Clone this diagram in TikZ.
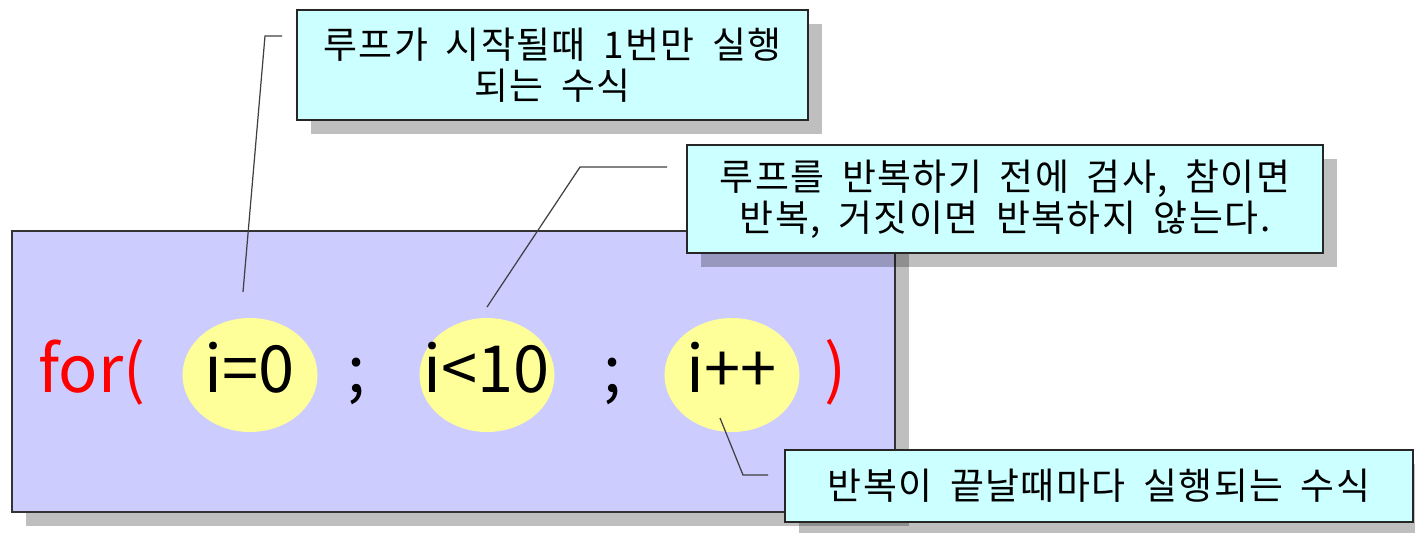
\documentclass[tikz,border=0pt]{standalone}
\usepackage{fontspec}
\setmainfont{Noto Sans CJK KR}
\newfontfamily\krwide[LetterSpace=4,WordSpace=1.8]{Noto Sans CJK KR}
\usetikzlibrary{shapes.geometric,shadows}
\definecolor{lavbox}{HTML}{CCCCFF}
\definecolor{cyanbox}{HTML}{CCFFFF}
\definecolor{yellowov}{HTML}{FFFF99}
\begin{document}
\begin{tikzpicture}[x=0.02cm,y=-0.02cm,
  shad/.style={drop shadow={shadow xshift=0.28cm,shadow yshift=-0.28cm,opacity=0.25,fill=black}},
  mainbox/.style={draw=black!80,line width=0.8pt,fill=lavbox,inner sep=0pt},
  callout/.style={draw=black!85,line width=0.8pt,fill=cyanbox,inner sep=0pt,align=center,
    font=\krwide\fontsize{21pt}{23.5pt}\selectfont},
  oval/.style={ellipse,fill=yellowov,inner sep=0pt,minimum width=2.7cm,minimum height=2.28cm},
  code/.style={font=\fontsize{37pt}{40pt}\selectfont,anchor=base,inner sep=0pt},
  redcode/.style={code,text=red},
  lead/.style={draw=black!75,line width=0.7pt}
]
\useasboundingbox (0,0) rectangle (1415,532);
% main box
\node[mainbox,shad,minimum width=17.66cm,minimum height=5.62cm] (main) at (453.5,371.5) {};
% ovals
\node[oval] (e1) at (250,375) {};
\node[oval] (e2) at (487,375) {};
\node[oval] (e3) at (732,375) {};
% code text
\node[redcode] (for) at (92,392) {for(};
\node[code] (t1) at (250,392) {i=0};
\node[code] (s1) at (357,392) {;};
\node[code] (t2) at (487,392) {i<10};
\node[code] (s2) at (613,392) {;};
\node[code] (t3) at (732,392) {i++};
\node[redcode] (cl) at (835,392) {)};
% callouts
\node[callout,shad,minimum width=10.22cm,minimum height=2.2cm] (b1) at (552.5,65)
  {루프가 시작될때 1번만 실행\\되는 수식};
\node[callout,shad,minimum width=12.72cm,minimum height=2.16cm] (b2) at (1005,199)
  {루프를 반복하기 전에 검사, 참이면\\반복, 거짓이면 반복하지 않는다.};
\node[callout,shad,minimum width=12.56cm,minimum height=1.44cm] (b3) at (1099,486)
  {반복이 끝날때마다 실행되는 수식};
% leader lines
\coordinate (l1a) at (243,292);
\coordinate (l1b) at (265,36);
\coordinate (l1c) at (282,36);
\coordinate (l2a) at (487,307);
\coordinate (l2b) at (580,167);
\coordinate (l2c) at (667,167);
\coordinate (l3a) at (720,418);
\coordinate (l3b) at (743,475);
\coordinate (l3c) at (768,475);
\draw[lead] (l1a) -- (l1b) -- (l1c);
\draw[lead] (l2a) -- (l2b) -- (l2c);
\draw[lead] (l3a) -- (l3b) -- (l3c);
\end{tikzpicture}
\end{document}
